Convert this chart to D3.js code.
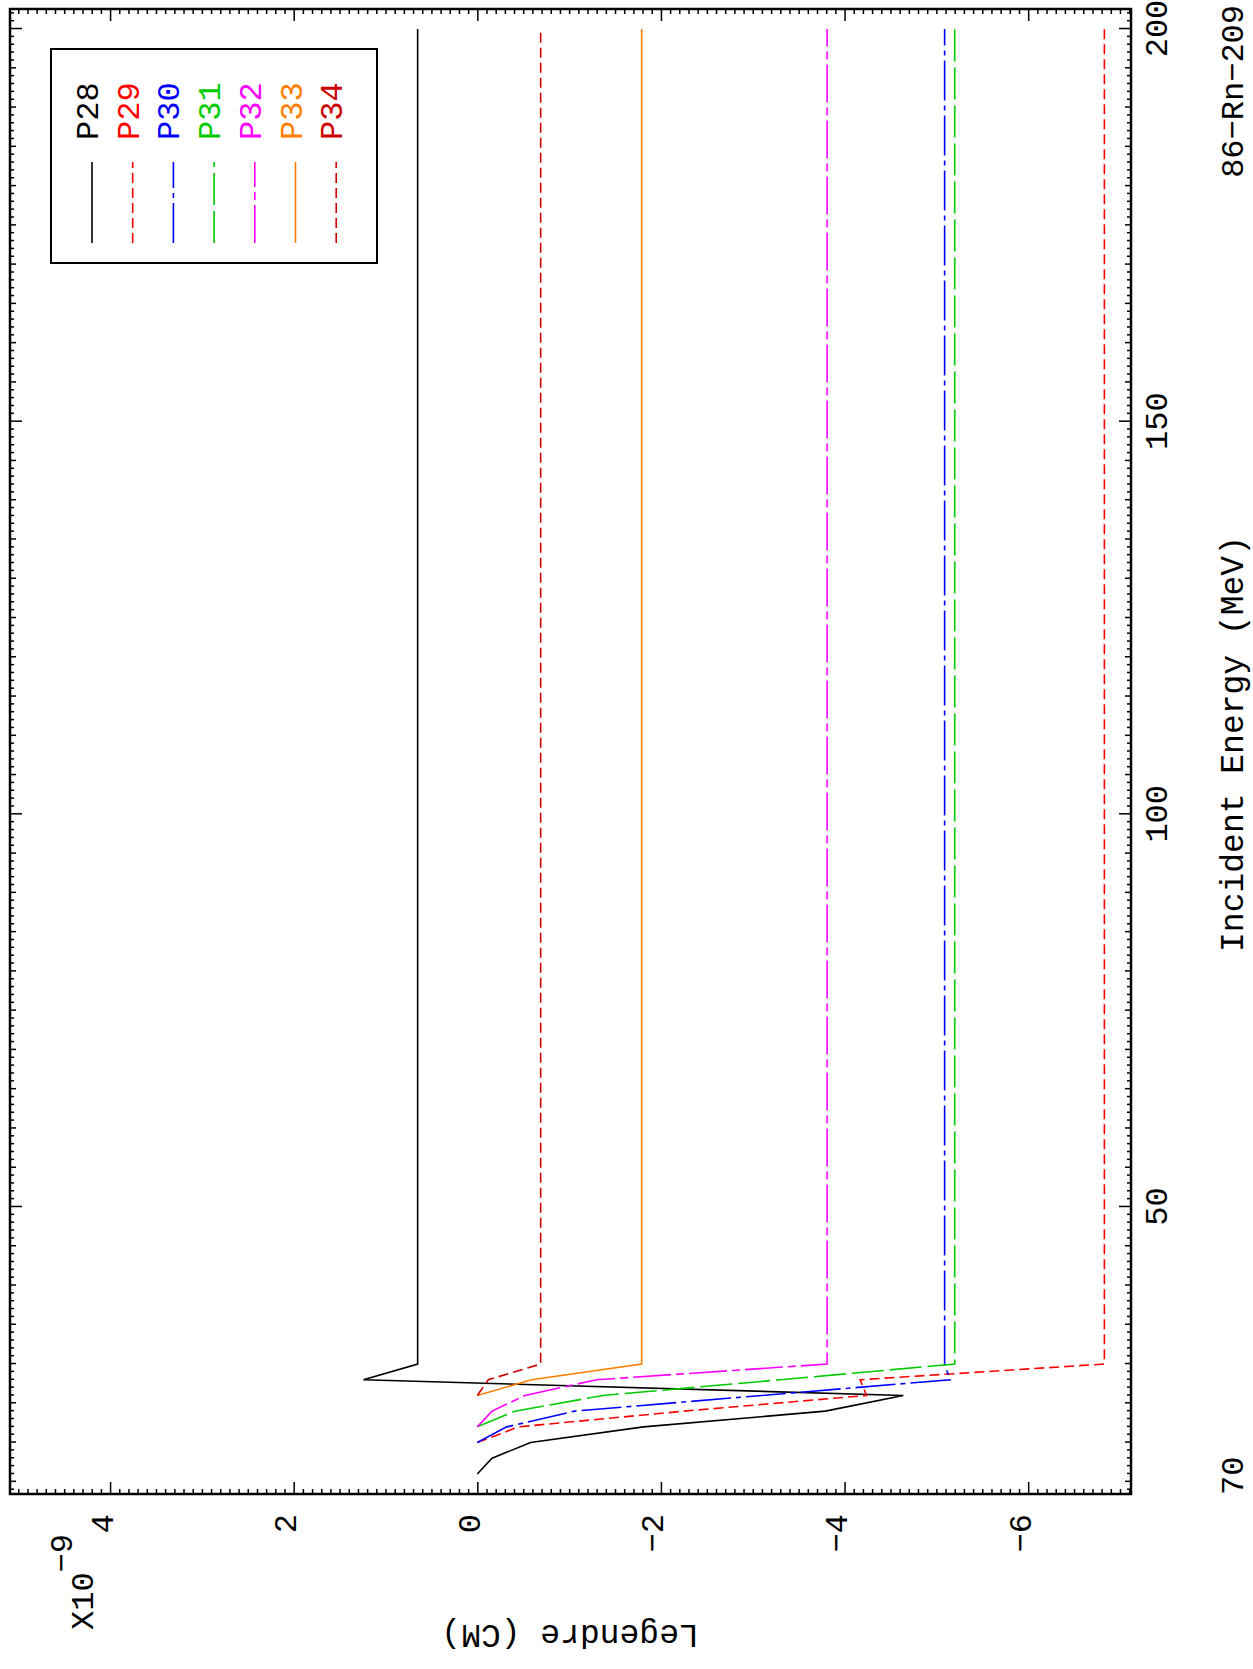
<!DOCTYPE html>
<html lang="en">
<head>
  <meta charset="UTF-8">
  <script src="https://cdn.jsdelivr.net/npm/d3@7"></script>
  <title>86-Rn-209 Legendre</title>
  <style>
    body { margin: 0; background: #fff; }
    svg { display: block; background: #fff; }
    text { font-family: "Liberation Mono", "DejaVu Sans Mono", monospace; }
  </style>
</head>
<body>
<div id="chart"></div>
<script>

// Data (energies in MeV, coefficients in units of 1e-9)
var energies = [16, 18, 20, 22, 24, 26, 28, 30, 200];
var p28 = [0, -0.16, -0.58, -1.81, -3.79, -4.64, 1.24, 0.65, 0.65];
var p29 = [null, null, 0, -0.45, -2.25, -4.24, -4.17, -6.83, -6.83];
var p30 = [null, null, 0, -0.32, -1.06, -3.1, -5.15, -5.09, -5.09];
var p31 = [null, null, null, 0, -0.41, -1.37, -3.3, -5.2, -5.2];
var p32 = [null, null, null, 0, -0.16, -0.52, -1.3, -3.81, -3.81];
var p33 = [null, null, null, null, null, 0, -0.59, -1.79, -1.79];
var p34 = [null, null, null, null, null, 0, -0.12, -0.69, -0.69];

var seriesNames = ["P28", "P29", "P30", "P31", "P32", "P33", "P34"];
var seriesValues = [p28, p29, p30, p31, p32, p33, p34];
var seriesColors = ["#000000", "#ff0000", "#0000ff", "#00cc00", "#ff00ff", "#ff8000", "#cc0000"];
var seriesDash = [null, "10,5", "40,5,5,5", "32,6", "38,5,8,5", null, "10,5"];

var xTicks = [50, 100, 150, 200];
var yTicks = [-6, -4, -2, 0, 2, 4];

// Page is portrait; the plot is drawn landscape and turned a quarter turn
var pageW = 1253, pageH = 1669;
var W = pageH, H = pageW;
var margin = {top: 10, right: 9, bottom: 122, left: 175};
var width = W - margin.left - margin.right;
var height = H - margin.top - margin.bottom;

var svg = d3.select("#chart").append("svg")
    .attr("width", pageW)
    .attr("height", pageH);

var root = svg.append("g")
    .attr("transform", "translate(0," + pageH + ") rotate(-90)");

var g = root.append("g")
    .attr("transform", "translate(" + margin.left + "," + margin.top + ")");

var x = d3.scaleLinear().domain([13.45, 202.55]).range([0, width]);
var y = d3.scaleLinear().domain([-7.12, 5.09]).range([height, 0]);

// Ticks on all four sides, pointing inward
function tickSet(values, len) {
  g.append("g").attr("transform", "translate(0," + height + ")")
    .call(d3.axisBottom(x).tickValues(values).tickSize(-len).tickFormat(""))
    .call(function(a) { a.select(".domain").remove(); });
  g.append("g")
    .call(d3.axisTop(x).tickValues(values).tickSize(-len).tickFormat(""))
    .call(function(a) { a.select(".domain").remove(); });
}
function tickSetY(values, len) {
  g.append("g")
    .call(d3.axisLeft(y).tickValues(values).tickSize(-len).tickFormat(""))
    .call(function(a) { a.select(".domain").remove(); });
  g.append("g").attr("transform", "translate(" + width + ",0)")
    .call(d3.axisRight(y).tickValues(values).tickSize(-len).tickFormat(""))
    .call(function(a) { a.select(".domain").remove(); });
}

var xMinor = d3.range(14, 203, 1).filter(function(d) { return d % 5 !== 0; });
var xMid = d3.range(15, 203, 5).filter(function(d) { return d % 50 !== 0; });
var yMinor = d3.range(-71, 51, 1).map(function(d) { return d / 10; })
    .filter(function(d) { return Math.abs(d % 2) > 1e-6; });

tickSet(xMinor, 4);
tickSet(xMid, 6);
tickSet(xTicks, 12);
tickSetY(yMinor, 5);
tickSetY(yTicks, 12);

g.selectAll(".tick line").attr("stroke", "#000").attr("stroke-width", 1.5);

// Major tick labels
var xAxis = g.append("g").attr("transform", "translate(0," + height + ")")
    .call(d3.axisBottom(x).tickValues(xTicks).tickSize(0).tickPadding(0));
xAxis.select(".domain").remove();
xAxis.selectAll("text").attr("y", 36).attr("dy", 0)
    .attr("font-size", 32).attr("font-family", "Liberation Mono, monospace");

var yAxis = g.append("g")
    .call(d3.axisLeft(y).tickValues(yTicks).tickSize(0).tickPadding(20)
      .tickFormat(function(d) { return d < 0 ? "\u2212" + (-d) : d; }));
yAxis.select(".domain").remove();
yAxis.selectAll("text").attr("dy", 2)
    .attr("font-size", 32).attr("font-family", "Liberation Mono, monospace");

// Frame
g.append("rect")
    .attr("width", width).attr("height", height)
    .attr("fill", "none").attr("stroke", "#000").attr("stroke-width", 2.5);

// Curves
var line = d3.line()
    .defined(function(d) { return d.v !== null; })
    .x(function(d) { return x(d.e); })
    .y(function(d) { return y(d.v); });

seriesValues.forEach(function(vals, i) {
  var pts = energies.map(function(e, j) { return {e: e, v: vals[j]}; });
  g.append("path")
    .datum(pts)
    .attr("fill", "none")
    .attr("stroke", seriesColors[i])
    .attr("stroke-width", 1.6)
    .attr("stroke-dasharray", seriesDash[i])
    .attr("d", line);
});

// Legend box (top right of the landscape plot)
var lg = root.append("g").attr("transform", "translate(1406,51)");
lg.append("rect")
    .attr("width", 214).attr("height", 326)
    .attr("fill", "#fff").attr("stroke", "#000").attr("stroke-width", 2);

seriesNames.forEach(function(name, i) {
  var yy = 41 + i * 40.7;
  lg.append("line")
    .attr("x1", 20).attr("x2", 101)
    .attr("y1", yy).attr("y2", yy)
    .attr("stroke", seriesColors[i])
    .attr("stroke-width", 1.6)
    .attr("stroke-dasharray", seriesDash[i]);
  lg.append("text")
    .attr("x", 123).attr("y", yy + 6)
    .attr("font-size", 32)
    .attr("fill", seriesColors[i])
    .text(name);
});

// Axis titles and annotations
root.append("text")
    .attr("x", 925).attr("y", 1243)
    .attr("text-anchor", "middle")
    .attr("font-size", 33)
    .text("Incident Energy (MeV)");

root.append("text")
    .attr("transform", "translate(44,570) rotate(-90)")
    .attr("text-anchor", "middle")
    .attr("font-size", 33)
    .text("Legendre (CM)");

var expo = root.append("text")
    .attr("x", 39).attr("y", 93)
    .attr("font-size", 32);
expo.append("tspan").text("X10");
expo.append("tspan").attr("dy", -21).text("\u22129");

root.append("text")
    .attr("x", 174).attr("y", 1243)
    .attr("font-size", 32)
    .text("70");

root.append("text")
    .attr("x", 1664).attr("y", 1243)
    .attr("text-anchor", "end")
    .attr("font-size", 32)
    .text("86\u2212Rn\u2212209");

</script>
</body>
</html>
